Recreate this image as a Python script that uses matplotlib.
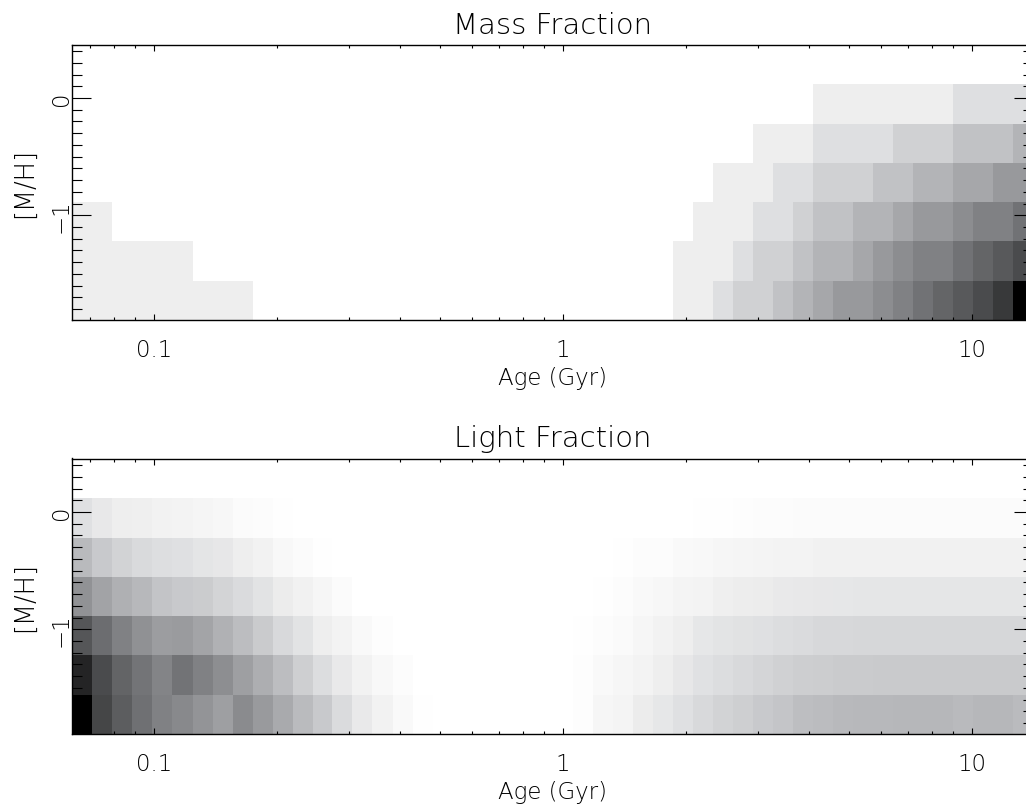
#!/usr/bin/env python3
"""Mass and light fraction maps over age and metallicity. Output: out.png."""

import numpy as np
import matplotlib
matplotlib.use("Agg")
import matplotlib.pyplot as plt
from matplotlib.colors import LinearSegmentedColormap
from matplotlib.ticker import LogLocator, MultipleLocator, NullFormatter

# bin edges, log10(age / Gyr) and [M/H]
LOG_AGE_EDGES = [
    -1.199, -1.150, -1.101, -1.052, -1.003, -0.954, -0.905, -0.856, -0.807, -0.758,
    -0.709, -0.660, -0.611, -0.563, -0.514, -0.465, -0.416, -0.367, -0.318, -0.269,
    -0.220, -0.171, -0.122, -0.073, -0.024, 0.025, 0.074, 0.123, 0.172, 0.221,
    0.270, 0.319, 0.368, 0.417, 0.466, 0.515, 0.564, 0.612, 0.661, 0.710,
    0.759, 0.808, 0.857, 0.906, 0.955, 1.004, 1.053, 1.102, 1.151,
]
MH_EDGES = [-1.894, -1.559, -1.224, -0.889, -0.554, -0.219, 0.116]

# grey shade of each cell, 255 = none; rows run from lowest [M/H] upwards
MASS_SHADES = [
    [238] * 9 + [255] * 21 + [238, 238, 222, 208, 208, 193, 179, 166, 152, 152, 140, 128, 113, 100, 88, 74, 56, 0],
    [238] * 6 + [255] * 24 + [238, 238, 238, 222, 208, 208, 193, 179, 179, 166, 152, 140, 128, 128, 113, 100, 88, 74],
    [238] * 2 + [255] * 29 + [238, 238, 238, 222, 222, 208, 193, 193, 179, 179, 166, 152, 152, 140, 128, 128, 113],
    [255] * 32 + [238, 238, 238, 222, 222, 208, 208, 208, 193, 193, 179, 179, 166, 166, 152, 152],
    [255] * 34 + [238, 238, 238, 222, 222, 222, 222, 208, 208, 208, 193, 193, 193, 179],
    [255] * 37 + [238, 238, 238, 238, 238, 238, 238, 222, 222, 222, 222],
]
LIGHT_SHADES = [
    [0, 69, 92, 111, 128, 136, 147, 158, 138, 153, 169, 186, 200, 218, 233, 242, 249, 254]
    + [255] * 7
    + [253, 246, 244, 236, 230, 223, 216, 210, 206, 200, 196, 189, 187, 184, 183, 183, 182, 182, 182, 185, 182, 182, 186],
    [36, 74, 99, 115, 131, 114, 128, 141, 158, 173, 188, 206, 220, 233, 242, 248, 252, 255]
    + [255] * 7
    + [253, 249, 246, 243, 238, 231, 224, 220, 216, 212, 208, 205, 204, 202, 202, 201, 201, 201, 201, 201, 201, 201, 201],
    [85, 108, 128, 144, 156, 154, 163, 176, 188, 202, 216, 226, 238, 243, 249, 253]
    + [255] * 9
    + [254, 252, 250, 246, 242, 238, 230, 227, 225, 223, 220, 218, 215, 215, 214, 214, 214, 214, 214, 214, 214, 214, 214],
    [145, 162, 175, 183, 195, 200, 203, 211, 218, 226, 236, 241, 246, 251]
    + [255] * 12
    + [254, 252, 249, 247, 244, 243, 239, 237, 236, 233, 232, 231, 230, 229, 229, 229, 229, 229, 229, 229, 229, 229],
    [185, 200, 210, 217, 221, 223, 228, 231, 238, 242, 248, 251, 254]
    + [255] * 14
    + [254, 252, 252, 249, 248, 246, 245, 244, 243, 243, 241, 241, 241, 241, 241, 241, 241, 241, 241, 241, 241],
    [223, 232, 238, 239, 242, 243, 245, 247, 251, 252, 254]
    + [255] * 20
    + [254, 254, 253, 252, 252, 251, 251, 251, 251, 251, 251, 251, 251, 251, 251, 251, 251],
]

AGE_TICKS = [0.1, 1, 10]
AGE_LABELS = ["0.1", "1", "10"]
MH_TICKS = [-1, 0]
MH_LABELS = ["\u22121", "0"]
XLABEL = "Age (Gyr)"
YLABEL = "[M/H]"

WIDTH, HEIGHT = 1026, 812
FONT = {"family": "DejaVu Sans", "weight": 200}

# slightly blue greys, as in the original palette
SHADE_CMAP = LinearSegmentedColormap.from_list(
    "shades",
    [
        (0.0, "#000000"),
        (88 / 255, "#58595B"),
        (128 / 255, "#808184"),
        (179 / 255, "#B3B4B7"),
        (222 / 255, "#DEDFE1"),
        (238 / 255, "#EEEEEE"),
        (1.0, "#FFFFFF"),
    ],
)


def draw_panel(fig, box, shades, title):
    left, top, right, bottom = box
    ax = fig.add_axes([
        left / WIDTH,
        1 - bottom / HEIGHT,
        (right - left) / WIDTH,
        (bottom - top) / HEIGHT,
    ])
    ages = np.power(10.0, LOG_AGE_EDGES)
    ax.pcolormesh(ages, MH_EDGES, np.array(shades), cmap=SHADE_CMAP, vmin=0, vmax=255, rasterized=True)
    ax.set_xscale("log")
    ax.set_xlim(ages[0], ages[-1])
    ax.set_ylim(MH_EDGES[0], 0.457)

    ax.set_xticks(AGE_TICKS, labels=AGE_LABELS)
    ax.xaxis.set_minor_locator(LogLocator(base=10, subs=np.arange(2, 10)))
    ax.xaxis.set_minor_formatter(NullFormatter())
    ax.set_yticks(MH_TICKS, labels=MH_LABELS)
    ax.yaxis.set_minor_locator(MultipleLocator(0.1))

    ax.tick_params(axis="x", which="major", direction="in", top=True, length=4, width=0.8, pad=13)
    ax.tick_params(axis="x", which="minor", direction="in", top=True, length=2.2, width=0.8)
    ax.tick_params(axis="y", which="major", direction="in", right=True, length=14, width=0.8, pad=-0.5)
    ax.tick_params(axis="y", which="minor", direction="in", right=True, length=7, width=0.8)
    for lab in ax.get_xticklabels():
        lab.set(fontsize=16.5, **FONT)
    for lab in ax.get_yticklabels():
        lab.set(fontsize=16.5, rotation=90, va="center", **FONT)
    for spine in ax.spines.values():
        spine.set_linewidth(1.0)

    cx = (left + right) / 2 / WIDTH
    fig.text(cx, 1 - (top - 12) / HEIGHT, title, ha="center", va="baseline", fontsize=21, **FONT)
    fig.text(cx, 1 - (bottom + 64) / HEIGHT, XLABEL, ha="center", va="baseline", fontsize=16.5, **FONT)
    fig.text(25 / WIDTH, 1 - (top + bottom) / 2 / HEIGHT, YLABEL, rotation=90, ha="center", va="center",
             fontsize=18.5, **FONT)
    return ax


def main():
    fig = plt.figure(figsize=(WIDTH / 100, HEIGHT / 100), dpi=100)
    draw_panel(fig, (72.3, 45.5, 1033.4, 321), MASS_SHADES, "Mass Fraction")
    draw_panel(fig, (72.3, 459.5, 1033.4, 735), LIGHT_SHADES, "Light Fraction")
    fig.savefig("out.png", dpi=100)
    plt.close(fig)


if __name__ == "__main__":
    main()
